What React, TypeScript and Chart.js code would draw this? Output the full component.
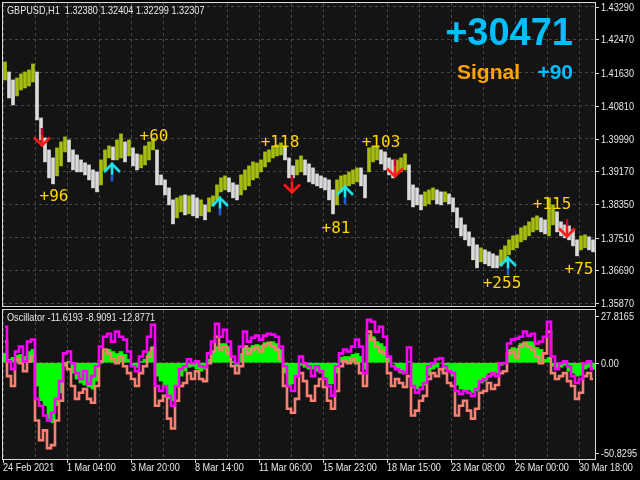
import React, { useEffect, useRef } from "react";
import { Chart, registerables } from "chart.js";
Chart.register(...registerables);

// ---------- texts ----------
const SYMBOL_HEADER = "GBPUSD,H1  1.32380 1.32404 1.32299 1.32307";
const OSC_HEADER = "Oscillator -11.6193 -8.9091 -12.8771";
const TOTAL_TEXT = "+30471";
const SIGNAL_TEXT = "Signal";
const SIGNAL_VALUE = "+90";

// ---------- time axis (hours from start, 1 hourly candle per unit) ----------
const HOURS_SPAN = 592;
const BAR_HOURS = 4; // each drawn bar summarises 4 hourly candles
const timeTickHours = [0, 64, 128, 192, 256, 320, 384, 448, 512, 576];
const timeTickLabels = [
  "24 Feb 2021", "1 Mar 04:00", "3 Mar 20:00", "8 Mar 14:00", "11 Mar 06:00",
  "15 Mar 23:00", "18 Mar 15:00", "23 Mar 08:00", "26 Mar 00:00", "30 Mar 18:00",
];

// ---------- price axis ----------
const PRICE_MIN = 1.358;
const PRICE_MAX = 1.4338;
const priceTicks = [1.4329, 1.4247, 1.4163, 1.4081, 1.3999, 1.3917, 1.3835, 1.3751, 1.3669, 1.3587];

// ---------- price bars (high / low per 4h) ----------
const priceHighs = [
  1.41905, 1.41655, 1.41455, 1.41505, 1.41605, 1.41655, 1.41705, 1.41855, 1.41655, 1.40505,
  1.40005, 1.39705, 1.39505, 1.39755, 1.39905, 1.40030, 1.39955, 1.39705, 1.39580, 1.39455,
  1.39380, 1.39330, 1.39205, 1.39155, 1.39455, 1.39705, 1.39805, 1.39780, 1.39955, 1.40105,
  1.39905, 1.39955, 1.39755, 1.39605, 1.39580, 1.39805, 1.39905, 1.40005, 1.39705, 1.39080,
  1.38955, 1.38755, 1.38455, 1.38505, 1.38555, 1.38580, 1.38555, 1.38580, 1.38505, 1.38455,
  1.38330, 1.38505, 1.38555, 1.38830, 1.39005, 1.39055, 1.39005, 1.38880, 1.38830, 1.39080,
  1.39205, 1.39305, 1.39405, 1.39380, 1.39455, 1.39655, 1.39705, 1.39805, 1.39830, 1.39880,
  1.39805, 1.39505, 1.39305, 1.39455, 1.39555, 1.39455, 1.39355, 1.39255, 1.39105, 1.39055,
  1.39005, 1.38955, 1.38705, 1.38955, 1.39055, 1.39080, 1.39155, 1.39205, 1.39255, 1.39255,
  1.39080, 1.39755, 1.39805, 1.39805, 1.39705, 1.39655, 1.39505, 1.39455, 1.39455, 1.39505,
  1.39605, 1.39330, 1.38830, 1.38755, 1.38580, 1.38655, 1.38705, 1.38755, 1.38705, 1.38655,
  1.38655, 1.38605, 1.38505, 1.38255, 1.38005, 1.37830, 1.37655, 1.37505, 1.37330, 1.37255,
  1.37205, 1.37155, 1.37105, 1.37055, 1.37205, 1.37305, 1.37455, 1.37555, 1.37580, 1.37755,
  1.37805, 1.37905, 1.38005, 1.38055, 1.38005, 1.37955, 1.38505, 1.38330, 1.38155, 1.37905,
  1.37830, 1.37805, 1.37705, 1.37455, 1.37555, 1.37580, 1.37530, 1.37455,
];
const priceLows = [
  1.41455, 1.41005, 1.40830, 1.41055, 1.41205, 1.41255, 1.41305, 1.41405, 1.40455, 1.39955,
  1.39405, 1.39005, 1.38855, 1.39055, 1.39305, 1.39655, 1.39405, 1.39205, 1.39155, 1.39155,
  1.39080, 1.38955, 1.38755, 1.38655, 1.38830, 1.39205, 1.39505, 1.39455, 1.39455, 1.39505,
  1.39405, 1.39555, 1.39305, 1.39205, 1.39255, 1.39330, 1.39455, 1.39705, 1.38830, 1.38830,
  1.38580, 1.38330, 1.37855, 1.38005, 1.38155, 1.38080, 1.38105, 1.38055, 1.38005, 1.38055,
  1.37955, 1.38155, 1.38305, 1.38455, 1.38655, 1.38705, 1.38655, 1.38505, 1.38455, 1.38580,
  1.38705, 1.38805, 1.38955, 1.39005, 1.39155, 1.39280, 1.39405, 1.39505, 1.39555, 1.39580,
  1.39455, 1.39005, 1.39005, 1.39080, 1.39155, 1.39080, 1.38905, 1.38855, 1.38805, 1.38755,
  1.38705, 1.38455, 1.38105, 1.38330, 1.38655, 1.38755, 1.38805, 1.38855, 1.38905, 1.38805,
  1.38505, 1.39155, 1.39405, 1.39455, 1.39355, 1.39205, 1.39080, 1.39005, 1.39105, 1.39155,
  1.39205, 1.38455, 1.38280, 1.38330, 1.38205, 1.38305, 1.38355, 1.38455, 1.38355, 1.38330,
  1.38405, 1.38355, 1.38155, 1.37755, 1.37555, 1.37455, 1.37305, 1.36955, 1.36755, 1.36905,
  1.36855, 1.36805, 1.36755, 1.36755, 1.36805, 1.36905, 1.37080, 1.37205, 1.37255, 1.37405,
  1.37455, 1.37555, 1.37655, 1.37705, 1.37655, 1.37605, 1.37555, 1.37830, 1.37655, 1.37555,
  1.37505, 1.37455, 1.37305, 1.37055, 1.37205, 1.37255, 1.37205, 1.37155,
];

// ---------- signals ----------
const buyHours = [109, 217, 342, 505];
const buyPrices = [1.3914, 1.3829, 1.3857, 1.3679];
const sellHours = [39, 289, 392, 564];
const sellPrices = [1.4003, 1.38855, 1.39255, 1.37755];
const profitTexts = ["+96", "+60", "+118", "+81", "+103", "+255", "+115", "+75"];
const profitHours = [51, 151, 277, 333, 378, 499, 549, 576];
const profitPrices = [1.3853, 1.4002, 1.3989, 1.3773, 1.3989, 1.36355, 1.3833, 1.36705];

// ---------- oscillator ----------
const OSC_MAX = 27.8165;
const OSC_MIN = -50.8295;
const oscTickValues = [27.8165, 0, -50.8295];
const oscTickLabels = ["27.8165", "0.00", "-50.8295"];
const oscHist = [
  4.9, 1.8, 2.8, 3.9, 4.4, 3.3, 5.9, 7.0, -12.3, -20.1,
  -22.7, -29.5, -31.6, -22.7, -15.9, -1.9, 0.7, -5.5, -8.6, -10.7,
  -11.8, -12.8, -13.9, -9.7, -0.3, 5.9, 7.0, 5.9, 4.9, 5.9,
  4.4, 1.8, -1.4, -2.4, 0.7, 1.8, 5.9, 8.5, -7.1, -9.7,
  -11.8, -19.1, -20.1, -12.3, -7.1, -4.5, -2.4, -1.9, -3.4, -4.5,
  -3.4, 1.8, 5.9, 8.5, 10.1, 10.1, 8.5, 0.7, -1.9, 4.9,
  8.5, 8.0, 9.1, 9.6, 9.1, 10.6, 11.1, 11.1, 10.1, 7.0,
  -5.5, -12.3, -11.2, -7.1, -1.4, -2.4, -3.4, -3.4, -4.5, -5.5,
  -7.6, -11.2, -11.2, -5.5, 2.8, 3.3, 3.3, 4.4, 4.9, 3.3,
  -3.4, 14.8, 13.7, 11.1, 10.1, 8.5, 2.8, -0.3, -3.4, -5.5,
  -4.5, 0.7, -13.3, -13.9, -12.3, -11.8, -6.6, -3.4, -2.4, -0.3,
  -3.4, -4.5, -7.1, -11.8, -13.9, -14.9, -14.4, -15.9, -14.9, -10.7,
  -9.7, -5.5, -6.6, -5.5, -1.4, -0.3, 7.0, 8.0, 7.5, 10.1,
  11.1, 11.1, 11.1, 8.0, 7.0, 1.8, 2.8, -1.9, -3.4, -2.4,
  -1.4, -4.5, -5.5, -7.1, -6.6, -3.4, -2.4, -3.4,
];
const oscFast = [
  19.0, 0.7, -3.4, 5.9, 8.5, 0.7, 11.1, 12.2, -19.1, -22.7,
  -27.9, -30.5, -26.4, -19.1, -9.7, 4.9, 5.9, -0.3, -5.5, -8.6,
  -4.5, -11.2, -7.1, -1.9, 8.5, 13.7, 15.3, 11.1, 16.4, 13.7,
  12.2, 5.9, -1.9, -4.5, 3.3, 5.9, 13.7, 20.0, -12.3, -14.9,
  -12.3, -17.5, -22.7, -12.3, -3.4, -1.9, 1.8, -0.3, 0.7, -1.9,
  -2.4, 4.9, 11.1, 20.5, 13.7, 17.4, 11.1, 3.3, -0.3, 8.5,
  16.4, 11.1, 13.2, 14.3, 12.2, 14.3, 15.3, 14.8, 13.7, 8.5,
  -1.9, -12.3, -14.9, -7.1, 3.3, -0.3, -1.9, -7.1, -1.9, -4.5,
  -8.6, -12.3, -17.5, -1.9, 4.9, 7.0, 5.9, 8.5, 12.2, 8.5,
  -5.5, 22.6, 21.6, 16.4, 19.0, 13.7, 3.3, -1.9, -3.4, -4.5,
  -5.5, 8.0, -12.3, -15.9, -13.9, -10.7, -1.9, -0.3, 1.8, 2.3,
  -1.9, -4.5, -5.5, -14.9, -16.5, -14.9, -15.9, -17.5, -13.9, -9.7,
  -8.6, -7.1, -5.5, -7.1, -0.3, -0.3, 10.1, 12.2, 12.7, 13.7,
  16.4, 14.3, 15.3, 10.1, 11.1, 13.7, 21.6, 3.3, -3.4, -0.3,
  0.7, -1.9, -7.1, -10.7, -8.6, -0.3, 0.7, -3.4,
];
const oscSlow = [
  11.1, -7.1, -12.3, 1.8, -0.3, -4.5, 0.7, 3.3, -30.5, -40.9,
  -35.7, -45.1, -43.5, -30.5, -20.1, -0.3, -3.4, -12.3, -19.1, -15.9,
  -13.9, -19.1, -21.1, -12.3, 0.7, 7.0, 4.9, 1.8, -0.3, 3.3,
  -1.9, -5.5, -8.6, -12.3, -5.5, -1.9, 3.3, 7.5, -22.7, -20.1,
  -17.5, -29.5, -34.7, -20.1, -12.3, -10.7, -5.5, -8.6, -4.5, -8.6,
  -9.7, -0.3, 5.9, 13.7, 7.0, 8.5, 4.9, -1.9, -5.5, -1.9,
  8.5, 4.9, 7.0, 8.0, 5.9, 9.1, 10.1, 8.5, 7.0, 1.8,
  -12.3, -24.3, -26.4, -19.1, -5.5, -9.7, -17.5, -20.1, -12.3, -8.6,
  -12.8, -20.1, -24.3, -14.9, -1.9, 0.7, -0.3, 1.8, -0.3, -5.5,
  -12.3, 16.4, 12.2, 8.5, 5.9, 4.9, -5.5, -12.3, -8.6, -10.7,
  -12.8, -7.1, -27.9, -25.3, -20.1, -17.5, -8.6, -5.5, -7.1, -3.4,
  -5.5, -10.7, -12.3, -27.9, -22.7, -20.1, -25.3, -29.5, -24.3, -15.9,
  -14.9, -10.7, -13.9, -11.8, -5.5, -4.5, 4.9, 5.9, 2.8, 8.5,
  10.1, 8.5, 7.0, 3.3, -0.3, 4.9, 16.4, -5.5, -8.6, -7.1,
  -5.5, -9.7, -12.3, -19.1, -15.9, -7.1, -5.5, -8.6,
];

// ---------- styles ----------
const BG = "#000000";
const PLOT_BG = "#141414";
const GRID = "#464646";
const BORDER = "#dcdcdc";
const TEXT = "#e8e8e8";
const UP_COLOR = "#a6bc12";
const DOWN_COLOR = "#dadada";
const SMALL_FONT = "11px 'Liberation Sans', Arial, sans-serif";
const SMALL_SCALE_X = 0.83; // condensed look of the terminal font

const barHour = (i: number) => i * BAR_HOURS + BAR_HOURS / 2;
const gridHours: number[] = [];
for (let h = 0; h < HOURS_SPAN; h += 32) gridHours.push(h);

function smallText(ctx: CanvasRenderingContext2D, text: string, x: number, y: number) {
  ctx.save();
  ctx.font = SMALL_FONT;
  ctx.fillStyle = TEXT;
  ctx.textAlign = "left";
  ctx.textBaseline = "middle";
  ctx.translate(x, y);
  ctx.scale(SMALL_SCALE_X, 1);
  ctx.fillText(text, 0, 0);
  ctx.restore();
}

function makeArrow(up: boolean): HTMLCanvasElement {
  const c = document.createElement("canvas");
  c.width = 20;
  c.height = 20;
  const g = c.getContext("2d")!;
  g.lineWidth = 2.6;
  const main = up ? "#20e6f4" : "#ff1a1a";
  const dark = up ? "#1f5fd0" : "#c4002e";
  const line = (pts: number[][], col: string) => {
    g.strokeStyle = col;
    g.beginPath();
    g.moveTo(pts[0][0], pts[0][1]);
    for (let i = 1; i < pts.length; i++) g.lineTo(pts[i][0], pts[i][1]);
    g.stroke();
  };
  if (up) {
    line([[10, 2], [10, 12]], main);
    line([[10, 12], [10, 19]], dark);
    line([[2, 9.5], [10, 1.5], [18, 9.5]], main);
  } else {
    line([[10, 1], [10, 8]], dark);
    line([[10, 8], [10, 18]], main);
    line([[2, 10.5], [10, 18.5], [18, 10.5]], main);
  }
  return c;
}

const bgPlugin = {
  id: "bg",
  beforeDraw(chart: any) {
    const { ctx, chartArea: a } = chart;
    ctx.save();
    ctx.fillStyle = BG;
    ctx.fillRect(0, 0, chart.width, chart.height);
    ctx.fillStyle = PLOT_BG;
    ctx.fillRect(a.left, a.top, a.right - a.left, a.bottom - a.top);
    ctx.restore();
  },
};

function drawBorder(chart: any) {
  const { ctx, chartArea: a } = chart;
  ctx.save();
  ctx.strokeStyle = BORDER;
  ctx.lineWidth = 1;
  ctx.strokeRect(a.left - 0.5, a.top - 0.5, a.right - a.left + 1, a.bottom - a.top + 1);
  ctx.restore();
}

function tickMark(ctx: CanvasRenderingContext2D, x0: number, y0: number, x1: number, y1: number) {
  ctx.save();
  ctx.strokeStyle = BORDER;
  ctx.lineWidth = 1;
  ctx.beginPath();
  ctx.moveTo(x0, y0);
  ctx.lineTo(x1, y1);
  ctx.stroke();
  ctx.restore();
}

export default function App() {
  const mainRef = useRef<HTMLCanvasElement>(null);
  const oscRef = useRef<HTMLCanvasElement>(null);

  useEffect(() => {
    const upArrow = makeArrow(true);
    const downArrow = makeArrow(false);

    const barColors = priceHighs.map((h, i) => {
      const mid = (h + priceLows[i]) / 2;
      const prev = i > 0 ? (priceHighs[i - 1] + priceLows[i - 1]) / 2 : mid;
      return mid >= prev ? UP_COLOR : DOWN_COLOR;
    });

    const mainOverlay = {
      id: "mainOverlay",
      afterDraw(chart: any) {
        drawBorder(chart);
        const { ctx, chartArea: a } = chart;
        const xs = chart.scales.x;
        const ys = chart.scales.y;
        smallText(ctx, SYMBOL_HEADER, 7, 11);
        priceTicks.forEach((v) => {
          const y = Math.round(ys.getPixelForValue(v));
          tickMark(ctx, a.right, y + 0.5, a.right + 4, y + 0.5);
          smallText(ctx, v.toFixed(5), a.right + 6, y + 0.5);
        });

        ctx.save();
        ctx.font = "16px 'DejaVu Sans Mono', monospace";
        ctx.fillStyle = "#ffd400";
        ctx.textAlign = "center";
        ctx.textBaseline = "middle";
        profitTexts.forEach((t, i) => {
          ctx.fillText(t, xs.getPixelForValue(profitHours[i]), ys.getPixelForValue(profitPrices[i]));
        });

        ctx.textBaseline = "alphabetic";
        ctx.font = "bold 38px 'Liberation Sans', Arial, sans-serif";
        ctx.fillStyle = "#00bfff";
        ctx.textAlign = "right";
        ctx.fillText(TOTAL_TEXT, 573, 45);

        ctx.font = "bold 21px 'Liberation Sans', Arial, sans-serif";
        ctx.fillStyle = "#ffa500";
        ctx.textAlign = "left";
        ctx.fillText(SIGNAL_TEXT, 457, 79);
        ctx.fillStyle = "#00bfff";
        ctx.textAlign = "right";
        ctx.fillText(SIGNAL_VALUE, 573, 79);
        ctx.restore();
      },
    };

    const mainChart = new Chart(mainRef.current!, {
      type: "bar",
      data: {
        datasets: [
          {
            type: "scatter",
            data: buyHours.map((h, i) => ({ x: h, y: buyPrices[i] })),
            pointStyle: upArrow as any,
            pointRadius: 9,
            order: 0,
          } as any,
          {
            type: "scatter",
            data: sellHours.map((h, i) => ({ x: h, y: sellPrices[i] })),
            pointStyle: downArrow as any,
            pointRadius: 9,
            order: 0,
          } as any,
          {
            type: "bar",
            data: priceHighs.map((h, i) => ({ x: barHour(i), y: [priceLows[i], h] })),
            backgroundColor: barColors,
            borderWidth: 0,
            barThickness: 3,
            order: 2,
          } as any,
        ],
      },
      options: {
        responsive: false,
        animation: false,
        devicePixelRatio: 1,
        events: [],
        layout: { autoPadding: false, padding: { left: 3, top: 3, right: 0, bottom: 2 } },
        plugins: { legend: { display: false }, tooltip: { enabled: false } },
        scales: {
          x: {
            type: "linear",
            min: 0,
            max: HOURS_SPAN,
            offset: false,
            afterBuildTicks: (s: any) => { s.ticks = gridHours.map((v) => ({ value: v })); },
            afterFit: (s: any) => { s.height = 0; },
            ticks: { display: false },
            grid: { color: GRID, drawTicks: false, offset: false },
            border: { display: false, dash: [3, 3] },
          },
          y: {
            position: "right",
            min: PRICE_MIN,
            max: PRICE_MAX,
            beginAtZero: false,
            afterBuildTicks: (s: any) => { s.ticks = priceTicks.map((v) => ({ value: v })); },
            afterFit: (s: any) => { s.width = 45; },
            ticks: { display: false },
            grid: { color: GRID, drawTicks: false },
            border: { display: false, dash: [3, 3] },
          },
        },
      } as any,
      plugins: [bgPlugin, mainOverlay],
    });

    const oscOverlay = {
      id: "oscOverlay",
      afterDraw(chart: any) {
        drawBorder(chart);
        const { ctx, chartArea: a } = chart;
        const xs = chart.scales.x;
        const ys = chart.scales.y;
        smallText(ctx, OSC_HEADER, 7, a.top + 8);
        oscTickValues.forEach((v, i) => {
          const y = Math.round(Math.min(Math.max(ys.getPixelForValue(v), a.top + 6), a.bottom - 6));
          tickMark(ctx, a.right, y + 0.5, a.right + 4, y + 0.5);
          smallText(ctx, oscTickLabels[i], a.right + 6, y + 0.5);
        });
        timeTickHours.forEach((h, i) => {
          const x = Math.round(xs.getPixelForValue(h));
          tickMark(ctx, x + 0.5, a.bottom, x + 0.5, a.bottom + 4);
          smallText(ctx, timeTickLabels[i], x, a.bottom + 9);
        });
      },
    };

    const oscChart = new Chart(oscRef.current!, {
      type: "bar",
      data: {
        datasets: [
          {
            type: "line",
            data: oscFast.map((v, i) => ({ x: barHour(i), y: v })),
            borderColor: "#ff00ff",
            borderWidth: 2.6,
            pointRadius: 0,
            stepped: "middle",
            order: 1,
          } as any,
          {
            type: "line",
            data: oscSlow.map((v, i) => ({ x: barHour(i), y: v })),
            borderColor: "#fa8072",
            borderWidth: 2.6,
            pointRadius: 0,
            stepped: "middle",
            order: 2,
          } as any,
          {
            type: "bar",
            data: oscHist.map((v, i) => ({ x: barHour(i), y: v })),
            backgroundColor: "#00ff00",
            borderWidth: 0,
            barThickness: BAR_HOURS,
            order: 3,
          } as any,
        ],
      },
      options: {
        responsive: false,
        animation: false,
        devicePixelRatio: 1,
        events: [],
        layout: { autoPadding: false, padding: { left: 3, top: 2, right: 0, bottom: 21 } },
        plugins: { legend: { display: false }, tooltip: { enabled: false } },
        scales: {
          x: {
            type: "linear",
            min: 0,
            max: HOURS_SPAN,
            offset: false,
            afterBuildTicks: (s: any) => { s.ticks = gridHours.map((v) => ({ value: v })); },
            afterFit: (s: any) => { s.height = 0; },
            ticks: { display: false },
            grid: { color: GRID, drawTicks: false, offset: false },
            border: { display: false, dash: [3, 3] },
          },
          y: {
            position: "right",
            min: OSC_MIN,
            max: OSC_MAX,
            beginAtZero: false,
            afterBuildTicks: (s: any) => { s.ticks = [{ value: 0 }]; },
            afterFit: (s: any) => { s.width = 45; },
            ticks: { display: false },
            grid: { color: GRID, drawTicks: false },
            border: { display: false, dash: [3, 3] },
          },
        },
      } as any,
      plugins: [bgPlugin, oscOverlay],
    });

    return () => {
      mainChart.destroy();
      oscChart.destroy();
    };
  }, []);

  return (
    <div style={{ position: "fixed", left: 0, top: 0, width: 640, height: 480, background: BG, overflow: "hidden" }}>
      <div style={{ position: "absolute", left: 0, top: 0 }}>
        <canvas ref={mainRef} width={640} height={308} style={{ display: "block" }} />
      </div>
      <div style={{ position: "absolute", left: 0, top: 308 }}>
        <canvas ref={oscRef} width={640} height={172} style={{ display: "block" }} />
      </div>
    </div>
  );
}
